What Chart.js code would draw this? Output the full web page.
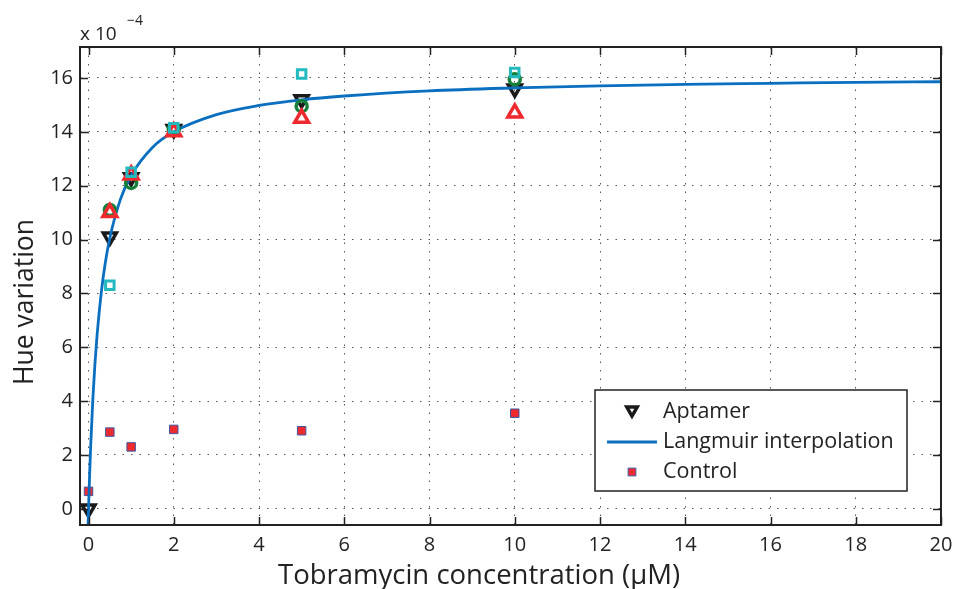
<!DOCTYPE html>
<html>
<head>
<meta charset="utf-8">
<script src="https://cdn.jsdelivr.net/npm/chart.js@4"></script>
<style>
  html, body { margin: 0; padding: 0; background: #fff; }
  #wrap { width: 954px; height: 589px; }
</style>
</head>
<body>
<div id="wrap"><canvas id="hue"></canvas></div>
<script>
// concentrations (uM) and hue variation (x 1e-4)
var conc = [0, 0.5, 1, 2, 5, 10];
var aptamer = [0, 10.1, 12.3, 14.1, 15.2, 15.6];
var rep2 = [null, 11.1, 12.1, 14.1, 14.95, 15.95];
var rep3 = [null, 11.0, 12.4, 14.0, 14.5, 14.7];
var rep4 = [null, 8.3, 12.5, 14.15, 16.15, 16.2];
var control = [0.65, 2.85, 2.3, 2.95, 2.9, 3.55];

// fitted Langmuir curve
var fitX = [-0.01, 0, 0.025, 0.05, 0.1, 0.15, 0.2, 0.3, 0.4, 0.5, 0.75, 1, 1.5, 2, 3, 4, 5, 6, 8, 10, 12, 14, 16, 18, 20];
var fitY = [-0.56, 0, 1.24, 2.3, 4.03, 5.37, 6.44, 8.05, 9.2, 10.06, 11.5, 12.38, 13.42, 14.0, 14.64, 14.98, 15.19, 15.33, 15.52, 15.63, 15.71, 15.76, 15.8, 15.84, 15.86];

var xTicks = [0, 2, 4, 6, 8, 10, 12, 14, 16, 18, 20];
var yTicks = [0, 2, 4, 6, 8, 10, 12, 14, 16];

var xTitle = 'Tobramycin concentration (\u00b5M)';
var yTitle = 'Hue variation';

var FONT = '"Open Sans", "DejaVu Sans", sans-serif';

function pts(ys) {
    var out = [];
    for (var i = 0; i < conc.length; i++) {
        if (ys[i] !== null) out.push({ x: conc[i], y: ys[i] });
    }
    return out;
}
var fit = fitX.map(function (x, i) { return { x: x, y: fitY[i] }; });

// box, inward ticks, axis titles, exponent label and legend
var matlabAxes = {
    id: 'matlabAxes',
    afterDraw: function (chart) {
        var ctx = chart.ctx, a = chart.chartArea;
        var xs = chart.scales.x, ys = chart.scales.y;
        ctx.save();
        ctx.strokeStyle = '#222';
        ctx.lineWidth = 1.5;
        ctx.beginPath();
        xTicks.forEach(function (v) {
            var px = Math.round(xs.getPixelForValue(v)) + 0.5;
            ctx.moveTo(px, a.bottom); ctx.lineTo(px, a.bottom - 8);
            ctx.moveTo(px, a.top); ctx.lineTo(px, a.top + 8);
        });
        yTicks.forEach(function (v) {
            var py = Math.round(ys.getPixelForValue(v)) + 0.5;
            ctx.moveTo(a.left, py); ctx.lineTo(a.left + 8, py);
            ctx.moveTo(a.right, py); ctx.lineTo(a.right - 8, py);
        });
        ctx.stroke();
        ctx.lineWidth = 2;
        ctx.strokeRect(a.left, a.top, a.right - a.left, a.bottom - a.top);

        ctx.fillStyle = '#222';
        ctx.textBaseline = 'alphabetic';

        // axis titles
        ctx.textAlign = 'center';
        ctx.font = '27.5px ' + FONT;
        ctx.fillText(xTitle, 479, 584);
        ctx.save();
        ctx.translate(33, 302);
        ctx.rotate(-Math.PI / 2);
        ctx.font = '26.5px ' + FONT;
        ctx.fillText(yTitle, 0, 0);
        ctx.restore();

        // exponent
        ctx.textAlign = 'left';
        ctx.font = '19px ' + FONT;
        ctx.fillText('x 10', a.left, 40);
        ctx.font = '14px ' + FONT;
        ctx.fillText('\u22124', a.left + 47, 25);

        // legend
        var L = { x: 595, y: 390, w: 312, h: 101 };
        ctx.fillStyle = '#fff';
        ctx.fillRect(L.x, L.y, L.w, L.h);
        ctx.strokeStyle = '#222';
        ctx.lineWidth = 1.5;
        ctx.strokeRect(L.x, L.y, L.w, L.h);
        var entries = chart.data.datasets.filter(function (ds) { return ds.legendRow !== undefined; });
        entries.sort(function (p, q) { return p.legendRow - q.legendRow; });
        entries.forEach(function (ds, row) {
            var cy = L.y + 22 + row * 30;
            var mx = L.x + 37;
            if (ds.showLine) {
                ctx.strokeStyle = ds.borderColor;
                ctx.lineWidth = ds.borderWidth;
                ctx.beginPath();
                ctx.moveTo(L.x + 12, cy); ctx.lineTo(L.x + 62, cy);
                ctx.stroke();
            } else {
                ctx.fillStyle = ds.backgroundColor;
                ctx.strokeStyle = ds.borderColor;
                ctx.lineWidth = ds.borderWidth;
                Chart.helpers.drawPoint(ctx, {
                    pointStyle: ds.pointStyle,
                    rotation: ds.rotation || 0,
                    radius: ds.legendRadius || ds.pointRadius,
                    borderWidth: ds.borderWidth
                }, mx, cy + (ds.rotation ? -2 : 0));
            }
            ctx.fillStyle = '#222';
            ctx.font = '21.5px ' + FONT;
            ctx.textAlign = 'left';
            ctx.textBaseline = 'middle';
            ctx.fillText(ds.label, L.x + 68, cy);
        });
        ctx.restore();
    }
};

new Chart(document.getElementById('hue'), {
    type: 'scatter',
    data: {
        datasets: [
            {
                label: 'rep4', data: pts(rep4),
                pointStyle: 'rect', pointRadius: 6, borderWidth: 3,
                borderColor: '#22b9bf', backgroundColor: 'rgba(0,0,0,0)'
            },
            {
                label: 'rep3', data: pts(rep3),
                pointStyle: 'triangle', pointRadius: 8, borderWidth: 3.5,
                borderColor: '#ee2a2f', backgroundColor: 'rgba(0,0,0,0)'
            },
            {
                label: 'rep2', data: pts(rep2),
                pointStyle: 'circle', pointRadius: 5.5, borderWidth: 3.5,
                borderColor: '#14803a', backgroundColor: 'rgba(0,0,0,0)'
            },
            {
                label: 'Langmuir interpolation', data: fit, legendRow: 1,
                type: 'line', showLine: true, pointRadius: 0,
                borderColor: '#0b6fc0', borderWidth: 2.8,
                cubicInterpolationMode: 'monotone'
            },
            {
                label: 'Aptamer', data: pts(aptamer), legendRow: 0,
                pointStyle: 'triangle', rotation: 180, pointRadius: 7.5, legendRadius: 6,
                borderWidth: 3.5, borderColor: '#1a1a1a', backgroundColor: 'rgba(0,0,0,0)'
            },
            {
                label: 'Control', data: pts(control), legendRow: 2,
                pointStyle: 'rect', pointRadius: 6, legendRadius: 5.5, borderWidth: 1,
                borderColor: '#3b5aa6', backgroundColor: '#ee2a2f'
            }
        ]
    },
    options: {
        responsive: true,
        maintainAspectRatio: false,
        animation: false,
        events: [],
        layout: { padding: { top: 47, right: 13, left: 0, bottom: 0 } },
        plugins: {
            legend: { display: false },
            tooltip: { enabled: false }
        },
        scales: {
            x: {
                type: 'linear', min: -0.2, max: 20,
                afterBuildTicks: function (s) { s.ticks = xTicks.map(function (v) { return { value: v }; }); },
                afterFit: function (s) { s.height = 64; s.paddingLeft = 0; s.paddingRight = 0; },
                grid: { color: '#555', lineWidth: 1, drawTicks: false },
                border: { display: false, dash: [1.5, 7] },
                ticks: { color: '#222', padding: 8, maxRotation: 0, font: { family: FONT, size: 20 } }
            },
            y: {
                min: -0.6, max: 17.15,
                afterBuildTicks: function (s) { s.ticks = yTicks.map(function (v) { return { value: v }; }); },
                afterFit: function (s) { s.width = 80; s.paddingTop = 0; s.paddingBottom = 0; },
                grid: { color: '#555', lineWidth: 1, drawTicks: false },
                border: { display: false, dash: [1.5, 7] },
                ticks: { color: '#222', padding: 7, font: { family: FONT, size: 20 } }
            }
        }
    },
    plugins: [matlabAxes]
});
</script>
</body>
</html>
